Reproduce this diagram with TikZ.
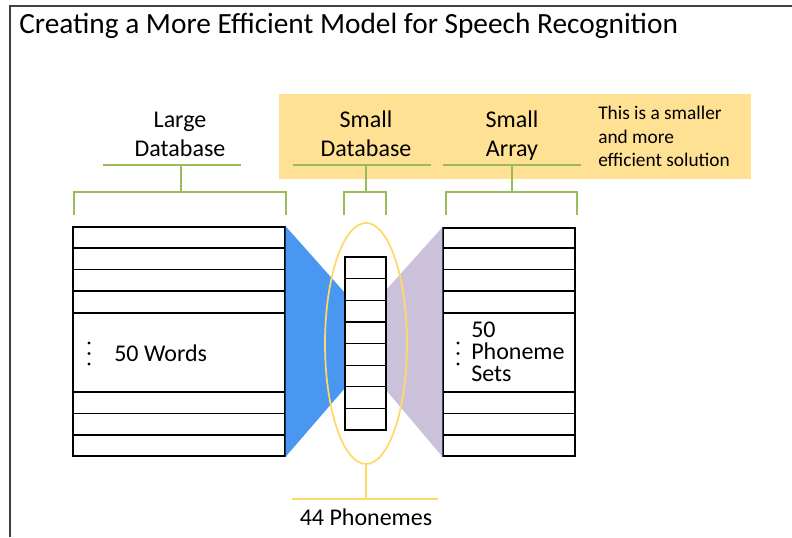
\documentclass[tikz,border=0pt]{standalone}
\usepackage{fontspec}
\setmainfont{Carlito}
\usepackage{tikz}
\usetikzlibrary{positioning,shapes.geometric}

\definecolor{frameGray}{HTML}{404040}
\definecolor{bracketGreen}{HTML}{9BBB59}
\definecolor{hlGold}{HTML}{FFE194}
\definecolor{ringGold}{HTML}{FFD966}
\definecolor{wordBlue}{HTML}{4A97F2}
\definecolor{setPurple}{HTML}{CCC1DA}

\begin{document}
\begin{tikzpicture}[
  x=0.75pt, y=-0.75pt,
  every node/.style={font=\fontsize{18pt}{21.6pt}\selectfont, inner sep=0pt},
  bracket/.style={draw=bracketGreen, line width=1.5pt},
  ringline/.style={draw=ringGold, line width=1.3pt},
  tbl/.style={draw, line width=1pt, fill=white},
  rowline/.style={line width=0.9pt},
  lbl/.style={align=center, anchor=base}
]
\useasboundingbox (0,0) rectangle (792,537);

% frame and title
\draw[frameGray, line width=1.5pt] (10,537) -- (10,6) -- (792,6);
\node[anchor=base west, font=\fontsize{22pt}{26pt}\selectfont] (title) at (19,33)
  {Creating a More Efficient Model for Speech Recognition};

% highlighted part
\fill[hlGold] (279,94) rectangle (751,179);

% labels
\node[lbl] (lgName) at (180,156) {Large\\Database};
\node[lbl] (smName) at (366,156) {Small\\Database};
\node[lbl] (arName) at (512,156) {Small\\Array};
\node[anchor=west, align=left, font=\fontsize{14.5pt}{17.6pt}\selectfont] (note)
  at (598,136.5) {This is a smaller\\and more\\efficient solution};

% brackets
\draw[bracket] (103,165) -- (241,165) (181,165) -- (181,192)
  (74,215) |- (286,192) -- (286,215);
\draw[bracket] (293,165) -- (431,165) (366,165) -- (366,192)
  (344,215) |- (386,192) -- (386,215);
\draw[bracket] (443,165) -- (581,165) (512,165) -- (512,192)
  (446,215) |- (577,192) -- (577,215);

% tables
\node[tbl, minimum width=159pt, minimum height=171.75pt] (words) at (179,341.5) {};
\node[tbl, minimum width=99pt, minimum height=171pt] (sets) at (509,342) {};

% funnels
\fill[wordBlue] (words.north east) -- (345,293) -- (345,388) -- (words.south east) -- cycle;
\fill[setPurple] (386,290) -- (sets.north west) -- (sets.south west) -- (386,390) -- cycle;

% phonemes
\node[ellipse, ringline, minimum width=61.5pt, minimum height=180.75pt] (ring) at (366,343.5) {};
\node[tbl, minimum width=30.75pt, minimum height=129.75pt] (phon) at (365.5,343.5) {};
\foreach \y in {278.6,300.25,321.9,343.5,365.1,386.75,408.4}
  \draw[rowline] (345,\y) -- (386,\y);
\draw[ringline] (ring.south) -- (366,499);
\draw[ringline] (292,499) -- (438,499);
\node[anchor=base] (phonTxt) at (366,525) {44 Phonemes};

\foreach \y in {248,269.5,291,313,392,413.5,435}{
  \draw[rowline] (73,\y) -- (285,\y);
  \draw[rowline] (443,\y) -- (575,\y);
}
% row dots
\foreach \y in {343,353.5,364}{
  \fill (89,\y) circle (1.2pt);
  \fill (458,\y) circle (1.2pt);
}
\node[anchor=west] (wordsTxt) at (114,353) {50 Words};
\node[anchor=west, align=left, font=\fontsize{18pt}{16.5pt}\selectfont] (setsTxt)
  at (471,352) {50\\Phoneme\\Sets};
\end{tikzpicture}
\end{document}
